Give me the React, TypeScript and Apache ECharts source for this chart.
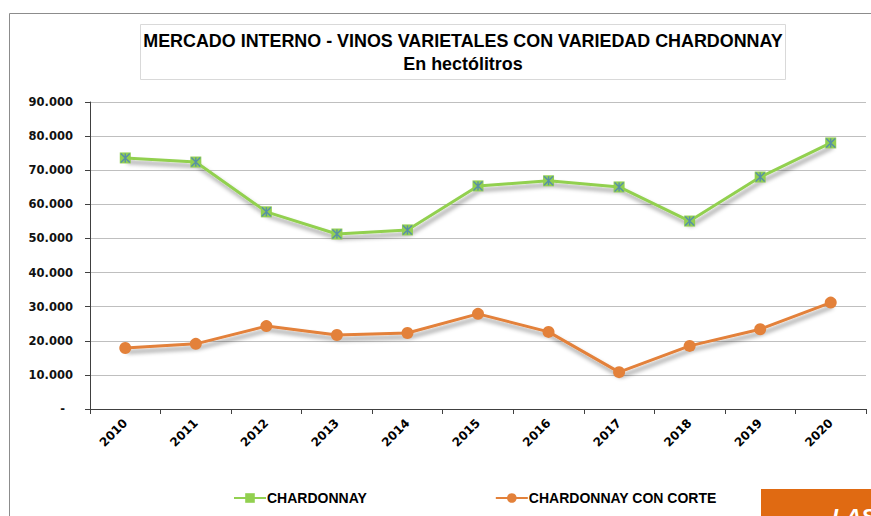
import React, { useEffect, useRef } from 'react';
import * as echarts from 'echarts';

const years = ['2010', '2011', '2012', '2013', '2014', '2015', '2016', '2017', '2018', '2019', '2020'];
const chardonnay = [73600, 72400, 57800, 51300, 52500, 65400, 66900, 65100, 55100, 68000, 78000];
const chardonnayConCorte = [17900, 19100, 24300, 21700, 22300, 27900, 22600, 10800, 18500, 23400, 31200];
const seriesNames = ['CHARDONNAY', 'CHARDONNAY CON CORTE'];
const titleLines = ['MERCADO INTERNO - VINOS VARIETALES CON VARIEDAD CHARDONNAY', 'En hectólitros'];
const yMax = 90000;
const yStep = 10000;

const fmt = (v: number) => {
  if (v === 0) return '{z|-}';
  const th = Math.floor(v / 1000);
  const rest = String(v % 1000).padStart(3, '0');
  return `${th}.${rest}`;
};

export default function App() {
  const ref = useRef<HTMLDivElement>(null);
  useEffect(() => {
    if (!ref.current) return;
    const chart = echarts.init(ref.current, null, { renderer: 'svg' });
    const lineShadow = {
      shadowColor: 'rgba(0,0,0,0.42)',
      shadowBlur: 4,
      shadowOffsetX: 2,
      shadowOffsetY: 4,
    };
    chart.setOption({
      animation: false,
      backgroundColor: '#ffffff',
      grid: { left: 90, right: 5, top: 102, bottom: 107, containLabel: false },
      xAxis: {
        type: 'category',
        data: years,
        boundaryGap: true,
        axisLine: { show: true, lineStyle: { color: '#404040', width: 1 } },
        axisTick: { show: true, length: 5, lineStyle: { color: '#404040' } },
        axisLabel: {
          interval: 0,
          rotate: 45,
          margin: 12,
          color: '#000',
          fontFamily: 'DejaVu Sans',
          fontWeight: 'bold',
          fontSize: 12,
        },
        splitLine: { show: false },
      },
      yAxis: {
        type: 'value',
        min: 0,
        max: yMax,
        interval: yStep,
        axisLine: { show: true, lineStyle: { color: '#404040', width: 1 } },
        axisTick: { show: true, length: 5, lineStyle: { color: '#404040' } },
        axisLabel: {
          margin: 17,
          color: '#111',
          fontFamily: 'DejaVu Sans',
          fontWeight: 'bold',
          fontSize: 11.5,
          formatter: fmt,
          rich: { z: { padding: [0, 8, 0, 0], fontFamily: 'DejaVu Sans', fontWeight: 'bold', fontSize: 11.5, color: '#111' } },
        },
        splitLine: { show: true, lineStyle: { color: '#BFBFBF', width: 1 } },
      },
      legend: {
        data: seriesNames,
        left: 228,
        top: 486,
        itemWidth: 32,
        itemHeight: 12,
        itemGap: 128,
        textStyle: { fontFamily: 'Liberation Sans', fontWeight: 'bold', fontSize: 14, color: '#000', padding: [0, 0, 0, -4] },
      },
      series: [
        {
          name: seriesNames[0],
          type: 'line',
          data: chardonnay,
          symbol: 'rect',
          symbolSize: 11,
          itemStyle: { color: '#92D050' },
          lineStyle: { color: '#92D050', width: 3, ...lineShadow },
          z: 3,
        },
        {
          name: 'asterisk',
          type: 'scatter',
          data: chardonnay,
          symbol: 'path://M0 0L10 10M10 0L0 10M5 0L5 10',
          symbolSize: 9,
          itemStyle: { color: 'none', borderColor: '#4A7EBB', borderWidth: 1.4 },
          silent: true,
          z: 4,
        },
        {
          name: seriesNames[1],
          type: 'line',
          data: chardonnayConCorte,
          symbol: 'circle',
          symbolSize: 12,
          itemStyle: { color: '#E3813A' },
          lineStyle: { color: '#E3813A', width: 3, ...lineShadow },
          z: 3,
        },
      ],
      graphic: [
        {
          type: 'rect',
          shape: { x: 9.5, y: 13.5, width: 900, height: 600 },
          style: { fill: 'none', stroke: '#8C8C8C', lineWidth: 1 },
          silent: true,
          z: 0,
        },
        {
          type: 'rect',
          shape: { x: 140.5, y: 24.5, width: 645, height: 55 },
          style: { fill: '#fff', stroke: '#D9D9D9', lineWidth: 1 },
          z: 1,
        },
        {
          type: 'text',
          x: 463,
          y: 41,
          style: {
            text: titleLines[0],
            align: 'center',
            verticalAlign: 'middle',
            font: 'bold 17.9px "Liberation Sans", Arial, sans-serif',
            fill: '#000',
          },
          z: 2,
        },
        {
          type: 'text',
          x: 463,
          y: 64,
          style: {
            text: titleLines[1],
            align: 'center',
            verticalAlign: 'middle',
            font: 'bold 17.9px "Liberation Sans", Arial, sans-serif',
            fill: '#000',
          },
          z: 2,
        },
        {
          type: 'rect',
          shape: { x: 761, y: 489, width: 120, height: 40 },
          style: { fill: '#E06A12' },
          z: 5,
        },
        {
          type: 'text',
          x: 832,
          y: 505,
          style: {
            text: 'LAS',
            font: 'italic bold 22px "Liberation Sans", Arial, sans-serif',
            fill: '#fff',
            verticalAlign: 'top',
          },
          z: 6,
        },
      ],
    });
    return () => chart.dispose();
  }, []);
  return <div ref={ref} style={{ position: 'fixed', left: 0, top: 0, width: 871, height: 516 }} />;
}
